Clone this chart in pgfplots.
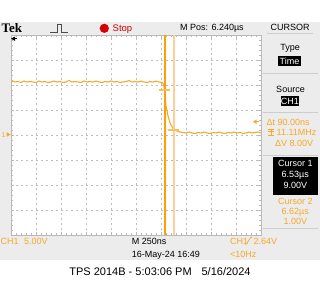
\documentclass[border=0pt]{standalone}
\usepackage{pgfplots}
\pgfplotsset{compat=1.18}
\usepackage{fontspec}
\setmainfont{Liberation Sans}
\newfontfamily\tekfont{Liberation Serif}
\definecolor{scgray}{RGB}{236,236,236}
\definecolor{sep}{RGB}{205,205,205}
\definecolor{chone}{RGB}{247,168,40}
\definecolor{curone}{RGB}{255,160,0}
\definecolor{curtwo}{RGB}{255,205,150}
\definecolor{curmark}{RGB}{250,190,100}
\definecolor{stopred}{RGB}{210,0,0}
\definecolor{griddot}{RGB}{190,190,190}
\definecolor{tickgray}{RGB}{185,185,185}
\begin{document}
\begin{tikzpicture}[x=1pt,y=1pt]
\fill[white] (0,0) rectangle (320,-300);
\fill[scgray] (0,-22) rectangle (320,-260);
\fill[white] (11,-35) rectangle (261,-235);
\begin{axis}[
  at={(11pt,-235pt)}, anchor=south west, scale only axis,
  width=250pt, height=200pt,
  xmin=4.99, xmax=7.49, ymin=-20, ymax=20,
  xtick={4.99,5.24,5.49,5.74,5.99,6.24,6.49,6.74,6.99,7.24,7.49},
  ytick={-20,-15,-10,-5,0,5,10,15,20},
  minor x tick num=4, minor y tick num=4,
  xticklabels={}, yticklabels={},
  tick align=inside, tick pos=both,
  major tick length=3pt, minor tick length=2pt,
  every tick/.style={color=tickgray, line width=0.7pt},
  grid=major,
  major grid style={griddot, line width=1pt, dash pattern=on 1.6pt off 3.4pt},
  axis line style={draw=tickgray, line width=0.7pt},
]
\addplot[chone, line width=1.1pt, no marks] table {
4.99 10.5
5.01 10.8
5.03 10.6
5.06 10.7
5.09 10.5
5.12 10.8
5.15 10.6
5.18 10.7
5.21 10.6
5.24 10.5
5.27 10.8
5.30 10.6
5.33 10.7
5.36 10.5
5.39 10.6
5.42 10.8
5.45 10.6
5.48 10.7
5.51 10.5
5.54 10.6
5.57 10.9
5.60 10.6
5.63 10.7
5.66 10.6
5.69 10.5
5.72 10.8
5.75 10.6
5.78 10.7
5.81 10.6
5.84 10.8
5.87 10.6
5.90 10.5
5.93 10.7
5.96 10.6
5.99 10.8
6.02 10.6
6.05 10.7
6.08 10.5
6.11 10.6
6.14 10.7
6.17 10.9
6.20 10.6
6.23 10.7
6.26 10.6
6.29 10.8
6.32 10.6
6.35 10.5
6.38 10.7
6.41 10.6
6.44 10.8
6.47 10.6
6.50 10.5
6.515 10.1
6.525 9.2
6.53 7.4
6.54 5.8
6.55 4.9
6.56 3.8
6.57 3.1
6.58 2.5
6.59 2.0
6.60 1.7
6.61 1.3
6.62 1.1
6.64 0.9
6.66 0.7
6.68 0.6
6.71 0.5
6.74 0.4
6.77 0.6
6.80 0.4
6.83 0.3
6.86 0.5
6.89 0.4
6.92 0.6
6.95 0.4
6.98 0.3
7.01 0.5
7.04 0.4
7.07 0.6
7.10 0.4
7.13 0.3
7.16 0.5
7.19 0.4
7.22 0.6
7.25 0.4
7.28 0.5
7.31 0.3
7.34 0.4
7.37 0.6
7.40 0.4
7.43 0.5
7.46 0.6
7.49 0.4
};
\addplot[curtwo, line width=1.2pt] coordinates {(6.62,-20) (6.62,20)};
\addplot[curone, line width=1.6pt] coordinates {(6.53,-20) (6.53,20)};
\addplot[curmark, line width=2pt] coordinates {(6.47,9) (6.58,9)};
\addplot[curmark, line width=2pt] coordinates {(6.557,1) (6.67,1)};
\end{axis}
% top bar
\node[anchor=base west, inner sep=0, font=\tekfont\bfseries\fontsize{13}{13}\selectfont] at (1.5,-32.3) {Tek};
\draw[black!70, line width=0.6pt] (50,-32.5) -- (57,-32.5) -- (57,-24) -- (61,-24) -- (61,-32.5) -- (68,-32.5);
\fill[stopred] (104.3,-28.3) circle (4.6);
\node[anchor=base west, inner sep=0, text=stopred, font=\fontsize{9.5}{10}\selectfont] at (112.5,-31.3) {Stop};
\node[anchor=base west, inner sep=0, font=\fontsize{9}{10}\selectfont] at (180,-30.5) {M Pos: 6.240µs};
\node[anchor=base, inner sep=0, font=\fontsize{9}{10}\selectfont] at (290,-30.5) {CURSOR};
\draw[sep, line width=1pt] (267,-33.5) -- (313,-33.5);
% markers
\fill[black] (11,-38.7) -- (15,-36.5) -- (15,-40.9) -- cycle;
\draw[black, line width=0.8pt] (14,-38.7) -- (17,-38.7);
\node[anchor=base west, inner sep=0, text=chone, font=\fontsize{7}{7}\selectfont] at (1.5,-137.3) {1};
\fill[chone] (10.5,-134.5) -- (6.5,-132.2) -- (6.5,-136.8) -- cycle;
\fill[chone] (253,-121.7) -- (256.5,-119.5) -- (256.5,-123.9) -- cycle;
\draw[chone, line width=0.8pt] (256,-121.7) -- (259,-121.7);
% right panel
\node[anchor=base, inner sep=0, font=\fontsize{9}{10}\selectfont] at (290,-50.5) {Type};
\fill[black] (278,-56) rectangle (301,-65.8);
\node[anchor=base, inner sep=0, text=white, font=\fontsize{9}{10}\selectfont] at (289.5,-64) {Time};
\draw[sep, line width=1pt] (263,-73.5) -- (318,-73.5);
\node[anchor=base, inner sep=0, font=\fontsize{9}{10}\selectfont] at (290.5,-92.2) {Source};
\fill[black] (280.7,-96) rectangle (299,-105.8);
\node[anchor=base, inner sep=0, text=white, font=\fontsize{9}{10}\selectfont] at (289.9,-104.2) {CH1};
\draw[sep, line width=1pt] (263,-112.5) -- (318,-112.5);
\node[anchor=base west, inner sep=0, text=chone, font=\fontsize{9}{10}\selectfont] at (266.5,-125) {Δt 90.00ns};
\draw[chone, line width=0.6pt] (268,-129) -- (274,-129);
\draw[chone, line width=0.6pt] (268,-131.5) -- (274,-131.5) (271,-129) -- (271,-135) (268,-135) -- (274,-135);
\node[anchor=base west, inner sep=0, text=chone, font=\fontsize{9}{10}\selectfont] at (276.5,-135.3) {11.11MHz};
\node[anchor=base west, inner sep=0, text=chone, font=\fontsize{9}{10}\selectfont] at (275,-146.8) {ΔV 8.00V};
\draw[sep, line width=1pt] (263,-155) -- (318,-155);
\fill[black] (272.7,-157) rectangle (318,-194.5);
\node[anchor=base, inner sep=0, text=white, font=\fontsize{9}{10}\selectfont] at (295.3,-166.5) {Cursor 1};
\node[anchor=base, inner sep=0, text=white, font=\fontsize{9}{10}\selectfont] at (295.3,-177.3) {6.53µs};
\node[anchor=base, inner sep=0, text=white, font=\fontsize{9}{10}\selectfont] at (295.3,-188) {9.00V};
\node[anchor=base, inner sep=0, text=chone, font=\fontsize{9}{10}\selectfont] at (295.3,-204) {Cursor 2};
\node[anchor=base, inner sep=0, text=chone, font=\fontsize{9}{10}\selectfont] at (295.3,-214.8) {6.62µs};
\node[anchor=base, inner sep=0, text=chone, font=\fontsize{9}{10}\selectfont] at (295.3,-224.3) {1.00V};
\draw[sep, line width=1pt] (263,-228.5) -- (318,-228.5);
% bottom bar
\node[anchor=base west, inner sep=0, text=chone, font=\fontsize{9}{10}\selectfont] at (0.5,-244) {CH1};
\node[anchor=base west, inner sep=0, text=chone, font=\fontsize{9}{10}\selectfont] at (24,-244) {5.00V};
\node[anchor=base west, inner sep=0, font=\fontsize{9}{10}\selectfont] at (131.7,-244) {M 250ns};
\node[anchor=base west, inner sep=0, font=\fontsize{9}{10}\selectfont] at (131.7,-257) {16-May-24 16:49};
\node[anchor=base west, inner sep=0, text=chone, font=\fontsize{9}{10}\selectfont] at (230,-244) {CH1};
\draw[chone, line width=0.7pt] (245,-244) -- (246.5,-244) -- (250.5,-237.5) -- (252,-237.5);
\node[anchor=base west, inner sep=0, text=chone, font=\fontsize{9}{10}\selectfont] at (253.3,-244) {2.64V};
\node[anchor=base west, inner sep=0, text=chone, font=\fontsize{9}{10}\selectfont] at (230,-257) {<10Hz};
\node[anchor=base, inner sep=0, font=\fontsize{11}{12}\selectfont] at (160,-275.5) {TPS 2014B - 5:03:06 PM\hspace{0.9em}5/16/2024};
\end{tikzpicture}
\end{document}
